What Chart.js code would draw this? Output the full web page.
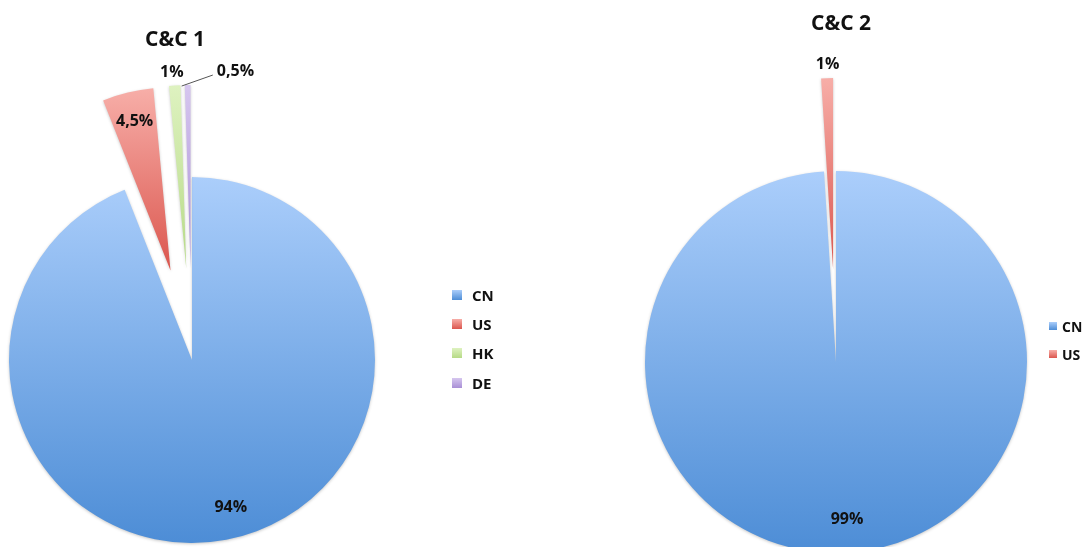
<!DOCTYPE html>
<html>
<head>
<meta charset="utf-8">
<script src="https://cdn.jsdelivr.net/npm/chart.js@4.4.1/dist/chart.umd.min.js"></script>
<style>
  html, body { margin: 0; padding: 0; background: #fff; }
  #stage { position: relative; width: 1091px; height: 547px; overflow: hidden; font-family: "Open Sans", sans-serif; }
  #stage canvas { position: absolute; left: 0; top: 0; }
  .title { position: absolute; font-weight: 700; font-size: 21px; color: #111; transform: translate(-50%, -50%); white-space: nowrap; line-height: 1; }
  .legend { position: absolute; font-weight: 700; color: #111; }
  .legend .row { display: flex; align-items: center; white-space: nowrap; }
  .legend .sw { display: inline-block; flex: none; }
</style>
</head>
<body>
<div id="stage">
  <canvas id="pie1" width="1091" height="547"></canvas>
  <canvas id="pie2" width="1091" height="547"></canvas>
  <div class="title" id="title1" style="left:175px; top:38px;"></div>
  <div class="title" id="title2" style="left:841px; top:22px;"></div>
  <div class="legend" id="legend1" style="left:452px; top:280px; font-size:15px;"></div>
  <div class="legend" id="legend2" style="left:1049px; top:312px; font-size:14px;"></div>
</div>
<script>
// ---- data ----
const chartTitles = ['C&C 1', 'C&C 2'];
const categories1 = ['CN', 'US', 'HK', 'DE'];
const shares1 = [94, 4.5, 1, 0.5];
const categories2 = ['CN', 'US'];
const shares2 = [99, 1];

// ---- styles ----
// top / bottom colour of each country's vertical gradient
const palette = {
  CN: ['#abcefb', '#4d8dd6'],
  US: ['#f7aea8', '#db564e'],
  HK: ['#def2c0', '#b6da86'],
  DE: ['#d6c6ef', '#a98fd6']
};
const explode1 = [0, 92, 92, 92];
const explode2 = [0, 93];
const placement1 = ['inside', 'inside', 'outside', 'callout'];
const placement2 = ['inside', 'outside'];
const nudge1 = [[10, -4], [0, 0], [-2, 1], [0, 0]];
const nudge2 = [[6, -3], [1, 0]];

const formatShare = v => String(v).replace('.', ',') + '%';

// Vertical gradient spanning one slice, taking its explosion into account
function sliceFill(ctx) {
  const chart = ctx.chart, ds = ctx.dataset, i = ctx.dataIndex;
  const stops = palette[chart.data.labels[i]];
  const area = chart.chartArea;
  if (!area) return stops[1];
  const cx = (area.left + area.right) / 2, cy = (area.top + area.bottom) / 2;
  const vals = ds.data;
  const total = vals.reduce((a, b) => a + b, 0);
  let acc = 0;
  for (let k = 0; k < i; k++) acc += vals[k];
  const start = -Math.PI / 2 + acc / total * 2 * Math.PI;
  const end = start + vals[i] / total * 2 * Math.PI;
  const mid = (start + end) / 2;
  const d = (ds.explode || [])[i] || 0;
  const ay = cy + Math.sin(mid) * d;
  let top = ay, bottom = ay;
  for (let s = 0; s <= 64; s++) {
    const a = start + (end - start) * s / 64;
    const y = ay + Math.sin(a) * ds.radius;
    top = Math.min(top, y); bottom = Math.max(bottom, y);
  }
  const g = chart.ctx.createLinearGradient(0, top, 0, bottom);
  g.addColorStop(0, stops[0]);
  g.addColorStop(1, stops[1]);
  return g;
}

// Pulls exploded slices straight out along their bisector
const explodePlugin = {
  id: 'explodeSlices',
  afterDatasetUpdate(chart, args) {
    const ds = chart.data.datasets[args.index];
    args.meta.data.forEach((arc, i) => {
      const d = (ds.explode || [])[i] || 0;
      if (!d) return;
      const mid = (arc.startAngle + arc.endAngle) / 2;
      arc.x += Math.cos(mid) * d;
      arc.y += Math.sin(mid) * d;
    });
  }
};

// Soft edge shadow plus percentage labels
const labelPlugin = {
  id: 'shareLabels',
  beforeDatasetsDraw(chart) {
    const c = chart.ctx;
    c.save();
    c.shadowColor = 'rgba(0,0,0,0.22)';
    c.shadowBlur = 3;
    c.shadowOffsetX = 0;
    c.shadowOffsetY = 1;
  },
  afterDatasetsDraw(chart) {
    const c = chart.ctx;
    c.restore();
    const ds = chart.data.datasets[0];
    const meta = chart.getDatasetMeta(0);
    c.save();
    c.font = 'bold 16px "Open Sans", sans-serif';
    c.fillStyle = '#111';
    c.textAlign = 'center';
    c.textBaseline = 'middle';
    meta.data.forEach((arc, i) => {
      const mode = ds.placement[i];
      const mid = (arc.startAngle + arc.endAngle) / 2;
      const r = arc.outerRadius;
      const dist = mode === 'inside' ? r * 0.84 : r + 14;
      const nd = (ds.nudge || [])[i] || [0, 0];
      let x = arc.x + Math.cos(mid) * dist + nd[0];
      let y = arc.y + Math.sin(mid) * dist + nd[1];
      const text = formatShare(ds.data[i]);
      if (mode === 'callout') {
        const ox = arc.x + Math.cos(mid) * (r + 1);
        const oy = arc.y + Math.sin(mid) * (r + 1);
        x += 48;
        const w = c.measureText(text).width;
        c.beginPath();
        c.moveTo(ox - 6, oy + 2);
        c.lineTo(x - w / 2 - 4, y + 4);
        c.strokeStyle = '#555';
        c.lineWidth = 1;
        c.stroke();
      }
      c.fillText(text, x, y);
    });
    c.restore();
  }
};

function makePie(canvasId, labels, values, explode, placement, nudge, center, radius) {
  const el = document.getElementById(canvasId);
  return new Chart(el, {
    type: 'pie',
    data: {
      labels: labels,
      datasets: [{
        data: values,
        radius: radius,
        explode: explode,
        placement: placement,
        nudge: nudge,
        backgroundColor: sliceFill,
        borderWidth: 0
      }]
    },
    options: {
      responsive: false,
      animation: false,
      events: [],
      layout: {
        padding: {
          left: Math.max(0, 2 * center[0] - el.width),
          right: Math.max(0, el.width - 2 * center[0]),
          top: Math.max(0, 2 * center[1] - el.height),
          bottom: Math.max(0, el.height - 2 * center[1])
        }
      },
      plugins: { legend: { display: false }, tooltip: { enabled: false }, title: { display: false } }
    },
    plugins: [explodePlugin, labelPlugin]
  });
}

makePie('pie1', categories1, shares1, explode1, placement1, nudge1, [192, 360], 183);
makePie('pie2', categories2, shares2, explode2, placement2, nudge2, [836, 362], 191);

// titles and legends
document.getElementById('title1').textContent = chartTitles[0];
document.getElementById('title2').textContent = chartTitles[1];

function buildLegend(id, labels, box, gap, rowH) {
  const host = document.getElementById(id);
  labels.forEach(lab => {
    const row = document.createElement('div');
    row.className = 'row';
    row.style.height = rowH + 'px';
    const sw = document.createElement('span');
    sw.className = 'sw';
    sw.style.width = box + 'px';
    sw.style.height = box + 'px';
    sw.style.marginRight = gap + 'px';
    sw.style.background = 'linear-gradient(' + palette[lab][0] + ', ' + palette[lab][1] + ')';
    const tx = document.createElement('span');
    tx.textContent = lab;
    row.appendChild(sw);
    row.appendChild(tx);
    host.appendChild(row);
  });
}
buildLegend('legend1', categories1, 10, 10, 29.3);
buildLegend('legend2', categories2, 8, 5, 28);
</script>
</body>
</html>
